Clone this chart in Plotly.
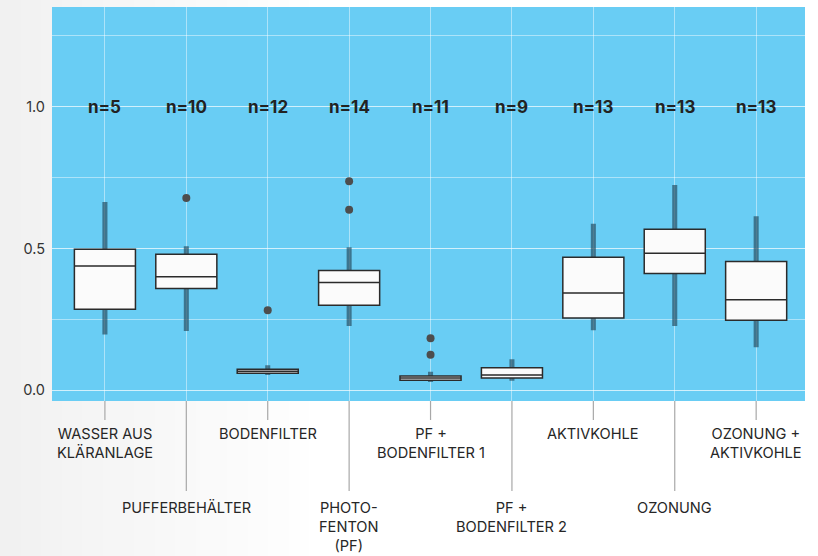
import plotly.graph_objects as go

# Treatment stages (multi-line labels use <br>)
categories = [
    "WASSER AUS<br>KLÄRANLAGE",
    "PUFFERBEHÄLTER",
    "BODENFILTER",
    "PHOTO-<br>FENTON<br>(PF)",
    "PF +<br>BODENFILTER 1",
    "PF +<br>BODENFILTER 2",
    "AKTIVKOHLE",
    "OZONUNG",
    "OZONUNG +<br>AKTIVKOHLE",
]
sample_sizes = [5, 10, 12, 14, 11, 9, 13, 13, 13]

# Box statistics per stage
q1 = [0.286, 0.359, 0.060, 0.300, 0.035, 0.043, 0.255, 0.412, 0.247]
median = [0.438, 0.400, 0.067, 0.380, 0.043, 0.054, 0.343, 0.483, 0.319]
q3 = [0.497, 0.480, 0.074, 0.422, 0.050, 0.079, 0.469, 0.568, 0.454]
whisker_low = [0.197, 0.209, 0.054, 0.227, 0.029, 0.033, 0.212, 0.227, 0.152]
whisker_high = [0.664, 0.508, 0.088, 0.504, 0.065, 0.109, 0.587, 0.724, 0.614]

# Outliers: (stage index, value)
outlier_stage = [1, 2, 3, 3, 4, 4]
outlier_value = [0.678, 0.282, 0.737, 0.637, 0.183, 0.125]

y_tick_values = [0.0, 0.5, 1.0]
y_tick_labels = ["0.0", "0.5", "1.0"]

FONT = "Inter, Roboto, sans-serif"
PLOT_BG = "#69cdf4"
GRID = "rgba(255,255,255,0.45)"
WHISKER = "rgba(42,80,100,0.7)"

W, H = 818, 556
M_L, M_R, M_T, M_B = 52, 13, 7, 155
PLOT_W = W - M_L - M_R

fig = go.Figure()

# Whiskers: narrow filled boxes spanning the whisker range, drawn first
fig.add_trace(go.Box(
    x=categories, q1=whisker_low, median=whisker_low, q3=whisker_high,
    lowerfence=whisker_low, upperfence=whisker_high,
    width=0.062, boxpoints=False,
    fillcolor=WHISKER,
    line=dict(color="rgba(0,0,0,0)", width=0),
    hoverinfo="skip", showlegend=False,
))

# Boxes from precomputed quartiles (fences at the box edges)
fig.add_trace(go.Box(
    x=categories, q1=q1, median=median, q3=q3,
    lowerfence=q1, upperfence=q3,
    width=0.75, boxpoints=False,
    fillcolor="#fbfbfb",
    line=dict(color="#2b2b2b", width=1.5),
    showlegend=False,
))

# Outlier points
fig.add_trace(go.Scatter(
    x=[categories[i] for i in outlier_stage], y=outlier_value,
    mode="markers",
    marker=dict(color="#4d4d4d", size=8),
    showlegend=False,
))

# Sample size labels
for c, n in zip(categories, sample_sizes):
    fig.add_annotation(
        x=c, y=1.0, text=f"<b>n={n}</b>", showarrow=False,
        font=dict(family=FONT, size=17, color="#222222"),
        xanchor="center", yanchor="middle",
    )

# Staggered category labels with tick lines of alternating length
for i, c in enumerate(categories):
    long_tick = i % 2 == 1
    tick_len = 90 if long_tick else 19
    gap = 6 if long_tick else 3
    fig.add_shape(
        type="line", xref="x", yref="paper",
        x0=c, x1=c, ysizemode="pixel", yanchor=0,
        y0=0, y1=-tick_len,
        line=dict(color="#a8a8a8", width=1.2),
    )
    fig.add_annotation(
        x=c, y=0, xref="x", yref="paper",
        yshift=-(tick_len + gap), yanchor="top", xanchor="center",
        text=c, showarrow=False, align="center",
        font=dict(family=FONT, size=14.6, color="#262626"),
    )

# Soft grey-to-white page background fading towards the right
steps = 32
fade_px = 330
for k in range(steps):
    px0 = fade_px * k / steps
    px1 = fade_px * (k + 1) / steps + 1
    t = k / (steps - 1)
    g = round(0xf1 + (0xff - 0xf1) * t)
    fig.add_shape(
        type="rect", xref="paper", yref="paper", layer="below",
        x0=(px0 - M_L) / PLOT_W, x1=(px1 - M_L) / PLOT_W,
        y0=-1, y1=2,
        fillcolor=f"rgb({g},{g},{g})", line=dict(width=0),
    )
# Plot area panel on top of the page fade
fig.add_shape(
    type="rect", xref="paper", yref="paper", layer="below",
    x0=0, x1=1, y0=0, y1=1,
    fillcolor=PLOT_BG, line=dict(width=0),
)

fig.update_layout(
    width=W, height=H,
    margin=dict(l=M_L, r=M_R, t=M_T, b=M_B),
    paper_bgcolor="#ffffff",
    plot_bgcolor=PLOT_BG,
    font=dict(family=FONT, color="#333333"),
    boxmode="overlay",
    xaxis=dict(
        type="category",
        range=[-0.65, 8.6],
        showticklabels=False,
        ticks="",
        showgrid=True, gridcolor=GRID, gridwidth=1,
        zeroline=False, showline=False,
    ),
    yaxis=dict(
        range=[-0.038, 1.352],
        tickvals=y_tick_values, ticktext=y_tick_labels,
        tickfont=dict(family=FONT, size=14.5, color="#333333"),
        ticks="", ticklabelstandoff=6,
        showgrid=True, gridcolor=GRID, gridwidth=1,
        minor=dict(dtick=0.25, tick0=0, showgrid=True, gridcolor=GRID, gridwidth=1),
        zeroline=False, showline=False,
    ),
)

fig.write_html("out.html")
